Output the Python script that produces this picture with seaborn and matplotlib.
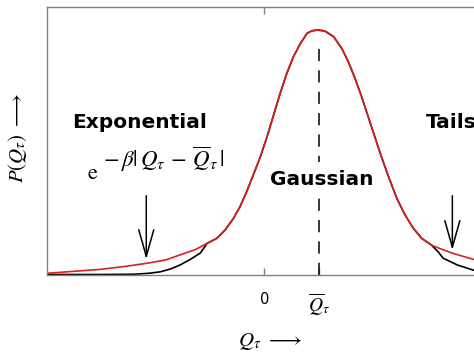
import numpy as np
import pandas as pd
import seaborn as sns
import matplotlib
matplotlib.use("Agg")
import matplotlib.pyplot as plt

# Значения (Q в единицах, где среднее = 1, P нормировано на пик)
q_mean = 1.0

# общая часть (гауссово ядро, красная и чёрная совпадают)
core_q = [-1.04, -0.86, -0.71, -0.56, -0.44, -0.32, -0.20, -0.07, 0.05, 0.17, 0.29, 0.41,
          0.53, 0.66, 0.78, 0.87, 0.98, 1.10, 1.26, 1.41, 1.53, 1.65, 1.77, 1.89, 2.01,
          2.13, 2.26, 2.41, 2.56, 2.71, 2.86, 3.04]
core_p = [0.129, 0.150, 0.184, 0.231, 0.279, 0.340, 0.408, 0.483, 0.564, 0.653, 0.742, 0.823,
          0.891, 0.946, 0.987, 0.997, 1.000, 0.996, 0.973, 0.925, 0.870, 0.803, 0.728, 0.646, 0.564,
          0.483, 0.401, 0.313, 0.245, 0.191, 0.150, 0.122]

# экспоненциальные хвосты (красная)
left_exp_q = [-3.95, -2.98, -2.53, -2.13, -1.80, -1.53, -1.25]
left_exp_p = [0.007, 0.023, 0.035, 0.048, 0.061, 0.082, 0.104]
right_exp_q = [3.16, 3.42, 3.80, 4.29, 4.65]
right_exp_p = [0.111, 0.089, 0.064, 0.045, 0.037]

# гауссовы хвосты (чёрная)
left_gauss_q = [-3.95, -3.00, -2.38, -2.10, -1.89, -1.70, -1.53, -1.35, -1.16]
left_gauss_p = [0.002, 0.002, 0.003, 0.007, 0.013, 0.025, 0.041, 0.063, 0.090]
right_gauss_q = [3.16, 3.25, 3.51, 3.80, 4.29, 4.65]
right_gauss_p = [0.095, 0.069, 0.041, 0.020, 0.008, 0.004]

df = pd.concat([
    pd.DataFrame({"Q": left_gauss_q + core_q + right_gauss_q,
                  "P": left_gauss_p + core_p + right_gauss_p, "curve": "gauss"}),
    pd.DataFrame({"Q": left_exp_q + core_q + right_exp_q,
                  "P": left_exp_p + core_p + right_exp_p, "curve": "exp"}),
])

sns.set_theme(style="white")
plt.rcParams["mathtext.fontset"] = "stix"
plt.rcParams["font.family"] = ["DejaVu Sans"]
plt.rcParams["text.color"] = "black"
plt.rcParams["axes.labelcolor"] = "black"
plt.rcParams["xtick.color"] = "black"

fig = plt.figure(figsize=(4.74, 3.56), dpi=100)
# оси выходят за правый край картинки, как в оригинале
ax = fig.add_axes([47 / 474, 81 / 356, 473 / 474, 268 / 356])

sns.lineplot(data=df, x="Q", y="P", hue="curve", hue_order=["gauss", "exp"],
             palette={"gauss": "black", "exp": "#dc1f1f"}, estimator=None,
             legend=False, linewidth=1.2, ax=ax)

ax.vlines(q_mean, 0, 0.96, colors="black", linestyles=(0, (8, 6)), linewidth=1.1, zorder=1)

ax.set_xlim(-3.95, 4.65)
ax.set_ylim(0, 1.094)
ax.set_yticks([])
ax.set_xticks([0, q_mean])
ax.set_xticklabels(["0", r"$\overline{Q}_\tau$"])
lbls = ax.get_xticklabels()
lbls[0].set_fontsize(10.5)
lbls[1].set_fontsize(14)
ax.tick_params(axis="x", direction="in", length=5, width=1, color="#808080", pad=12,
               bottom=True, labelcolor="black")
top = ax.secondary_xaxis("top")
top.set_xticks([0])
top.set_xticklabels([])
top.tick_params(direction="in", length=5, width=1, color="#808080")
top.spines["top"].set_visible(False)

for s in ["left", "bottom", "top"]:
    ax.spines[s].set_color("#808080")
    ax.spines[s].set_linewidth(1)
ax.spines["right"].set_visible(False)
ax.set_xlabel("")
ax.set_ylabel("")

fig.text(270 / 474, 1 - 342 / 356, r"$Q_\tau\ \longrightarrow$", fontsize=15,
         ha="center", va="center")
fig.text(18 / 474, 1 - 138 / 356, r"$P(Q_\tau)\ \longrightarrow$", fontsize=15,
         ha="center", va="center", rotation=90)

# подписи
ax.text(-3.49, 0.60, "Exponential", fontsize=14.5, fontweight="bold", ha="left", va="baseline")
ax.text(2.93, 0.60, "Tails", fontsize=14.5, fontweight="bold", ha="left", va="baseline")
ax.text(1.04, 0.367, "Gaussian", fontsize=14.5, fontweight="bold", ha="center", va="baseline",
        bbox=dict(facecolor="white", edgecolor="none", pad=6), zorder=3)
ax.text(-3.22, 0.392, r"$\mathrm{e}$", fontsize=16, ha="left", va="baseline")
ax.text(-2.93, 0.441, r"$-\,\beta|\,Q_\tau\,-\,\overline{Q}_\tau\,|$", fontsize=16.5,
        ha="left", va="baseline")

arrow = dict(arrowstyle="->,head_length=1.6,head_width=0.45", color="black", lw=1.1)
ax.annotate("", xy=(-2.145, 0.053), xytext=(-2.145, 0.335), arrowprops=arrow)
ax.annotate("", xy=(3.42, 0.09), xytext=(3.42, 0.335), arrowprops=arrow)

plt.savefig("out.png", dpi=100)
